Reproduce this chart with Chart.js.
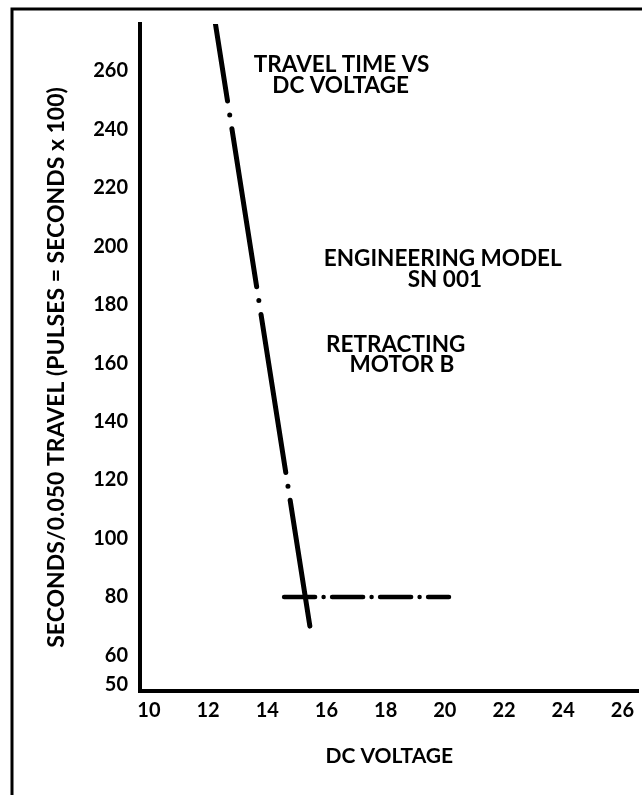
<!DOCTYPE html>
<html>
<head>
<meta charset="utf-8">
<script src="https://cdn.jsdelivr.net/npm/chart.js@4.4.1/dist/chart.umd.min.js"></script>
<style>
	html, body { margin: 0; padding: 0; background: #fff; }
	#wrap { width: 642px; height: 795px; }
</style>
</head>
<body>
<div id="wrap"><canvas id="myChart" width="642" height="795"></canvas></div>
<script>
// Data
const lineVolts = [12.25, 15.44];
const lineTimes = [276, 70];
const refVolts = [14.4, 20.14];
const refTimes = [80, 80];
const xTicks = [10, 12, 14, 16, 18, 20, 22, 24, 26];
const yTicks = [50, 60, 80, 100, 120, 140, 160, 180, 200, 220, 240, 260];

const yTitle = "SECONDS/0.050 TRAVEL (PULSES = SECONDS x 100)";

// Labels on the plot, anchored in data units (volts, time)
const notes = [
	{ text: "TRAVEL TIME VS", x: 16.51, y: 261.9 },
	{ text: "DC VOLTAGE", x: 16.48, y: 254.9 },
	{ text: "ENGINEERING MODEL", x: 19.93, y: 195.6 },
	{ text: "SN 001", x: 20.0, y: 188.6 },
	{ text: "RETRACTING", x: 18.34, y: 166.4 },
	{ text: "MOTOR B", x: 18.55, y: 159.4 },
];

const FONT = "Lato";

const framePlugin = {
	id: "frame",
	beforeDraw(chart) {
		const ctx = chart.ctx;
		ctx.save();
		ctx.fillStyle = "#fff";
		ctx.fillRect(0, 0, chart.width, chart.height);
		ctx.strokeStyle = "#000";
		ctx.lineWidth = 3;
		ctx.beginPath();
		ctx.moveTo(12, chart.height);
		ctx.lineTo(12, 9);
		ctx.lineTo(chart.width, 9);
		ctx.stroke();

		// rotated y axis title
		const area = chart.chartArea;
		ctx.translate(57, (area.top + area.bottom) / 2 + 10);
		ctx.rotate(-Math.PI / 2);
		ctx.fillStyle = "#000";
		ctx.font = "bold 23px " + FONT;
		ctx.textAlign = "center";
		ctx.textBaseline = "middle";
		ctx.fillText(yTitle, 0, 0);
		ctx.restore();
	},
	afterDatasetsDraw(chart) {
		const ctx = chart.ctx;
		const xs = chart.scales.x;
		const ys = chart.scales.y;
		ctx.save();
		ctx.fillStyle = "#000";
		ctx.font = "bold 22.5px " + FONT;
		ctx.textAlign = "center";
		ctx.textBaseline = "middle";
		notes.forEach((n) => {
			ctx.fillText(n.text, xs.getPixelForValue(n.x), ys.getPixelForValue(n.y));
		});
		ctx.restore();
	},
};

const config = {
	type: "scatter",
	data: {
		datasets: [
			{
				data: lineVolts.map((v, i) => ({ x: v, y: lineTimes[i] })),
				showLine: true,
				borderColor: "#000",
				borderWidth: 5,
				borderCapStyle: "round",
				borderDash: [160, 14, 0, 14],
				borderDashOffset: 82,
				pointRadius: 0,
			},
			{
				data: refVolts.map((v, i) => ({ x: v, y: refTimes[i] })),
				showLine: true,
				borderColor: "#000",
				borderWidth: 4.5,
				borderCapStyle: "round",
				borderDash: [31, 8.5, 0, 8.5],
				borderDashOffset: -5,
				pointRadius: 0,
			},
		],
	},
	options: {
		responsive: false,
		animation: false,
		devicePixelRatio: 1,
		layout: { padding: { top: 10, left: 0, right: 0, bottom: 0 } },
		plugins: {
			legend: { display: false },
			tooltip: { enabled: false },
		},
		scales: {
			x: {
				type: "linear",
				min: 9.7,
				max: 26.55,
				afterFit: (s) => { s.height = 104; },
				afterBuildTicks: (s) => { s.ticks = xTicks.map((v) => ({ value: v })); },
				grid: { display: false, drawTicks: false },
				border: { display: true, color: "#000", width: 4 },
				ticks: {
					padding: 8,
					color: "#000",
					font: { family: FONT, size: 20, weight: "bold" },
					maxRotation: 0,
					autoSkip: false,
				},
				title: {
					display: true,
					text: "DC VOLTAGE",
					color: "#000",
					font: { family: FONT, size: 21, weight: "bold" },
					padding: { top: 0, bottom: 26 },
				},
			},
			y: {
				type: "linear",
				min: 47.8,
				max: 276,
				afterFit: (s) => { s.width = 140; },
				afterBuildTicks: (s) => { s.ticks = yTicks.map((v) => ({ value: v })); },
				grid: { display: false, drawTicks: false },
				border: { display: true, color: "#000", width: 4 },
				ticks: {
					padding: 12,
					color: "#000",
					font: { family: FONT, size: 20, weight: "bold" },
					autoSkip: false,
				},
			},
		},
	},
	plugins: [framePlugin],
};

var myChart = new Chart(document.getElementById("myChart"), config);
</script>
</body>
</html>
